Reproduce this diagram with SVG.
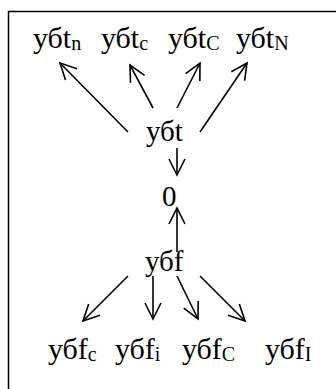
<svg xmlns="http://www.w3.org/2000/svg" width="336" height="389" viewBox="0 0 336 389">
<style>
text{font-family:"Liberation Serif","Times New Roman",serif;font-size:30px;fill:#000}
.m{font-size:29px}
.s{font-size:20px}
.c line{stroke:#000;stroke-width:1.6;marker-end:url(#a)}
</style>
<defs>
<marker id="a" markerUnits="userSpaceOnUse" markerWidth="20" markerHeight="20" refX="0" refY="0" viewBox="-18 -10 20 20" orient="auto" overflow="visible">
<path d="M-16,-8 L0,0 L-16,8" fill="none" stroke="#000" stroke-width="1.6"/>
</marker>
</defs>
<rect x="8.5" y="11.5" width="340" height="400" fill="#fff" stroke="#000" stroke-width="1.5"/>
<g class="c" id="connectors">
<line x1="128" y1="132" x2="60" y2="63"/>
<line x1="153" y1="108" x2="130" y2="65"/>
<line x1="177" y1="108" x2="200" y2="63"/>
<line x1="200" y1="132" x2="247" y2="63"/>
<line x1="177" y1="148" x2="177" y2="175"/>
<line x1="177" y1="252" x2="177" y2="208"/>
<line x1="128" y1="276" x2="83" y2="321"/>
<line x1="153" y1="276" x2="153" y2="319"/>
<line x1="177" y1="276" x2="198" y2="319"/>
<line x1="200" y1="276" x2="245" y2="321"/>
</g>
<g id="n_tn"><text x="33" y="48">убt<tspan class="s" dy="2">n</tspan></text></g>
<g id="n_tc"><text x="101" y="48">убt<tspan class="s" dy="2">c</tspan></text></g>
<g id="n_tC"><text x="168" y="48">убt<tspan class="s" dy="2">C</tspan></text></g>
<g id="n_tN"><text x="236" y="48">убt<tspan class="s" dy="2">N</tspan></text></g>
<g id="n_t"><text class="m" x="146" y="141">убt</text></g>
<g id="n_0"><text class="m" x="162" y="206">0</text></g>
<g id="n_f"><text class="m" x="145" y="271">убf</text></g>
<g id="n_fc"><text x="48" y="359">убf<tspan class="s" dy="2">c</tspan></text></g>
<g id="n_fi"><text x="115" y="359">убf<tspan class="s" dy="2">i</tspan></text></g>
<g id="n_fC"><text x="182" y="359">убf<tspan class="s" dy="2">C</tspan></text></g>
<g id="n_fI"><text x="265" y="359">убf<tspan class="s" dy="2">I</tspan></text></g>
</svg>
